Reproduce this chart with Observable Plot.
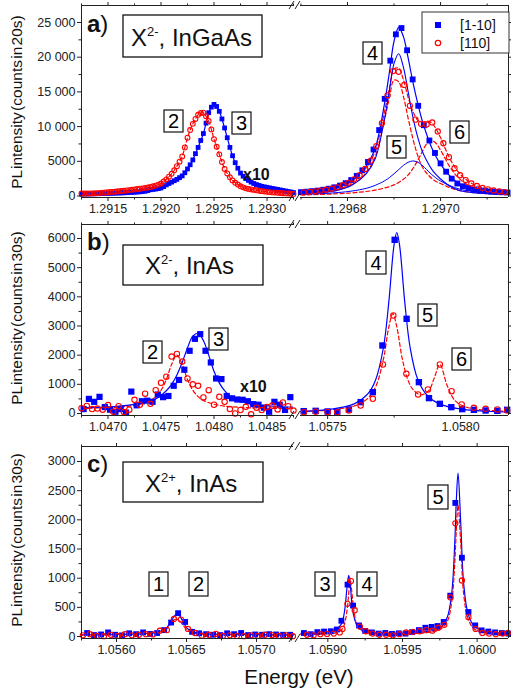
<!DOCTYPE html>
<html><head><meta charset="utf-8">
<script src="https://cdn.jsdelivr.net/npm/d3@7"></script>
<script src="https://cdn.jsdelivr.net/npm/@observablehq/plot@0.6"></script>
<style>
html,body{margin:0;padding:0;background:#fff;}
#chart{position:relative;width:511px;height:691px;overflow:hidden;font-family:'Liberation Sans',Arial,sans-serif;background:#fff;}
#chart svg{position:absolute;}
</style></head><body><div id="chart"></div>
<script>
// ---------- panel a : X2-, InGaAs ----------
const aLeftE = [1.29125,1.2913,1.29135,1.2914,1.29145,1.2915,1.29155,1.2916,1.29165,1.2917,1.29175,1.2918,1.29185,1.2919,1.29195,1.292,1.29205,1.2921,1.29215,1.2922,1.29225,1.2923,1.29235,1.2924,1.29245,1.2925,1.29255,1.2926,1.29265,1.2927,1.29275,1.2928,1.29285,1.2929,1.29295,1.293,1.29305,1.2931,1.29315,1.2932,1.29325];
const aLeftBlue = [280,300,310,330,350,380,400,430,460,500,540,600,680,900,1000,1150,1600,2000,2400,2900,3900,5200,7000,9000,12000,13200,12200,9800,7000,4800,3300,2500,2000,1650,1400,1250,1100,950,800,650,500];
const aLeftRed = [350,350,380,420,480,540,600,680,760,850,950,1050,1150,1300,1500,1800,2400,3200,4300,5700,8400,10400,11700,12000,10800,8200,6000,3900,2700,1900,1400,1100,950,820,700,600,520,460,400,350,300];
const aLeftMidE = [1.291275,1.291325,1.291375,1.291425,1.291475,1.291525,1.291575,1.291625,1.291675,1.291725,1.291775,1.291825,1.291875,1.291925,1.291975,1.292025,1.292075,1.292125,1.292175,1.292225,1.292275,1.292325,1.292375,1.292425,1.292475,1.292525,1.292575,1.292625,1.292675,1.292725,1.292775,1.292825,1.292875,1.292925,1.292975,1.293025,1.293075,1.293125,1.293175,1.293225];
const aLeftMidBlue = [290,305,320,340,365,390,415,445,480,520,570,640,780,950,1070,1350,1800,2200,2650,3350,4500,6100,8000,10500,12800,12900,11100,8400,5800,4000,2850,2250,1800,1520,1320,1170,1020,870,720,580];
const aLeftMidRed = [350,365,400,450,510,570,640,720,800,900,1000,1100,1220,1400,1640,2080,2780,3700,4950,7000,9500,11100,11950,11500,9600,7100,4900,3250,2250,1650,1250,1020,880,760,650,560,490,430,375,325];

const aRightBlueE = [1.2967,1.296712,1.296724,1.296736,1.296748,1.29676,1.296772,1.296784,1.296796,1.296808,1.29682,1.296832,1.296844,1.296856,1.296868,1.29688,1.296892,1.296904,1.296916,1.296928,1.29694,1.296952,1.296964,1.296976,1.296988,1.297,1.297012,1.297024,1.297036,1.297048,1.29706,1.297072,1.297084,1.297096,1.297108,1.29712,1.297132,1.297144];
const aRightBlue = [560,620,700,780,900,1050,1250,1500,1850,2300,2900,3700,4900,6700,9500,14000,19500,23300,24200,21000,16800,13000,10200,8000,6200,4700,3500,2500,1800,1400,1150,950,820,720,650,590,540,500];
const aRightRedE = [1.296706,1.296718,1.29673,1.296742,1.296754,1.296766,1.296778,1.29679,1.296802,1.296814,1.296826,1.296838,1.29685,1.296862,1.296874,1.296886,1.296898,1.29691,1.296922,1.296934,1.296946,1.296958,1.29697,1.296982,1.296994,1.297006,1.297018,1.29703,1.297042,1.297054,1.297066,1.297078,1.29709,1.297102,1.297114,1.297126,1.297138];
const aRightRed = [520,600,680,780,900,1050,1250,1550,1900,2400,3000,3900,5100,7200,10500,14500,18000,17900,16000,13000,11000,10400,10300,10600,9300,7600,5600,4000,3000,2300,1800,1450,1150,950,800,680,560];

const aFitE = [1.2967,1.29674,1.29678,1.29681,1.29684,1.29686,1.29688,1.29689,1.2969,1.29691,1.29692,1.29693,1.29694,1.29695,1.29696,1.29697,1.29698,1.29699,1.297,1.29702,1.29704,1.29707,1.2971,1.29715];
const aFitBlueTotal = [550,800,1350,2300,4300,7000,13500,17800,22300,24300,23000,20000,16600,13600,11000,8900,7100,5700,4600,2900,1800,1100,750,500];
const aFitBlue4 = [320,470,850,1580,3200,5450,11300,15150,19100,20500,18600,15150,11550,8700,6550,5100,3950,3100,2450,1400,800,480,330,260];
const aFitBlue5 = [230,330,500,720,1100,1550,2200,2650,3200,3800,4400,4850,5050,4900,4450,3800,3150,2600,2150,1500,1000,620,420,240];
const aFitRedTotal = [500,750,1250,2100,4000,6600,12300,15500,18300,18400,16800,14300,12300,11000,10600,10800,10600,9700,8400,5400,3300,1700,1050,500];
const aFitRed4 = [350,530,920,1650,3350,5750,11150,14150,16700,16450,14400,11300,8400,6000,4300,3300,2600,2100,1800,1200,800,500,350,200];
const aFitRed6 = [150,220,330,450,650,850,1150,1350,1600,1950,2400,3000,3900,5000,6300,7500,8000,7600,6600,4200,2500,1200,700,300];

// ---------- panel b : X2-, InAs ----------
const bLeftBlueE = [1.04677,1.04682,1.04687,1.04692,1.04697,1.04702,1.04707,1.04712,1.04717,1.04722,1.04727,1.04732,1.04737,1.04742,1.04747,1.04752,1.04757,1.04762,1.04767,1.04772,1.04777,1.04782,1.04787,1.04792,1.04797,1.04802,1.04807,1.04812,1.04817,1.04822,1.04827,1.04832,1.04837,1.04842,1.04847,1.04852,1.04857,1.04862,1.04867,1.04872];
const bLeftBlue = [150,500,400,570,220,130,60,150,30,750,280,420,440,400,650,560,600,950,1150,1500,2150,2560,2720,2150,1750,1200,1180,600,520,480,470,420,320,300,200,60,400,300,120,560];
const bLeftRedE = [1.04675,1.0468,1.04685,1.0469,1.04695,1.047,1.04705,1.0471,1.04715,1.0472,1.04725,1.0473,1.04735,1.0474,1.04745,1.0475,1.04755,1.0476,1.04765,1.0477,1.04775,1.0478,1.04785,1.0479,1.04795,1.048,1.04805,1.0481,1.04815,1.0482,1.04825,1.0483,1.04835,1.0484,1.04845,1.0485,1.04855,1.0486,1.04865,1.0487,1.04875];
const bLeftRed = [180,260,150,170,130,290,60,250,50,130,470,300,680,330,800,1050,1260,1950,2040,1780,1200,1000,950,550,800,300,570,400,150,0,120,230,-30,200,120,220,270,140,380,250,100];
const bLeftFitBlueE = [1.04675,1.0469,1.04705,1.0472,1.0473,1.0474,1.04745,1.0475,1.04755,1.0476,1.04765,1.0477,1.04775,1.0478,1.04785,1.0479,1.04795,1.048,1.04805,1.0481,1.04815,1.04825,1.04835,1.04845,1.0486,1.04875];
const bLeftFitBlue = [190,210,240,290,340,430,500,620,780,1000,1320,1750,2250,2650,2750,2500,2000,1450,1050,780,600,420,330,280,240,215];
const bLeftFitRedE = [1.04675,1.0469,1.04705,1.0472,1.0473,1.0474,1.04745,1.0475,1.04755,1.0476,1.04765,1.0477,1.04775,1.0478,1.04785,1.0479,1.048,1.0481,1.04825,1.04845,1.04875];
const bLeftFitRed = [177,189,210,254,317,450,579,797,1163,1683,2000,1683,1163,797,579,450,317,254,210,184,168];

const bRightBlueE = [1.05741,1.057455,1.0575,1.057536,1.05758,1.057624,1.05767,1.057706,1.057752,1.057797,1.057843,1.057881,1.057922,1.057965,1.058006,1.05805,1.058094,1.058138,1.058175];
const bRightBlue = [80,91,69,57,137,389,731,2332,5955,3246,1074,526,331,217,149,126,103,91,126];
const bRightRedE = [1.057411,1.057455,1.0575,1.057536,1.05758,1.057624,1.05767,1.057708,1.057747,1.057796,1.05784,1.057877,1.057922,1.057966,1.058004,1.05805,1.058094,1.058138,1.058175];
const bRightRed = [46,60,55,40,103,274,503,1680,3360,1360,651,823,1680,766,309,194,160,137,103];
const bRightFitBlueE = [1.0574,1.0575,1.0576,1.05765,1.05768,1.05771,1.05773,1.05775,1.05776,1.05777,1.05779,1.05781,1.05784,1.05788,1.05793,1.058,1.0581,1.05819];
const bRightFitBlue = [68,130,331,661,1142,2271,3820,5800,6200,5800,3820,2271,1142,565,295,152,77,48];
const bRightFitRedE = [1.0574,1.0575,1.0576,1.05765,1.05768,1.05771,1.05773,1.057745,1.05776,1.05778,1.0578,1.05782,1.05785,1.05788,1.0579,1.057922,1.05795,1.05798,1.05802,1.05807,1.05812,1.05819];
const bRightFitRed = [75,117,258,510,906,1872,2964,3422,2978,1907,1198,833,640,783,1195,1678,943,431,222,134,98,73];

// ---------- panel c : X2+, InAs ----------
const cLeftBlueE = [1.05579,1.05584,1.05589,1.05594,1.05599,1.05604,1.05609,1.05614,1.05619,1.05624,1.05629,1.05634,1.05639,1.05644,1.05649,1.05654,1.05659,1.05664,1.05669,1.05674,1.05679,1.05684,1.05689,1.05694,1.05699,1.05704,1.05709,1.05714,1.05719,1.05724];
const cLeftBlue = [60,25,35,70,30,20,55,40,70,45,60,110,240,400,250,80,55,40,30,25,55,40,60,25,35,30,40,35,30,30];
const cLeftRedE = [1.05576,1.05581,1.05586,1.05591,1.05596,1.05601,1.05606,1.05611,1.05616,1.05621,1.05626,1.05631,1.05636,1.05641,1.05646,1.05651,1.05656,1.05661,1.05666,1.05671,1.05676,1.05681,1.05686,1.05691,1.05696,1.05701,1.05706,1.05711,1.05716,1.05721,1.05726];
const cLeftRed = [20,40,10,5,30,10,40,20,30,40,35,100,110,300,290,130,60,15,30,45,10,20,10,5,20,10,30,25,10,20,5];
const cLeftFitE = [1.05575,1.056,1.0562,1.0563,1.05635,1.05638,1.05641,1.05643,1.05645,1.05648,1.05651,1.05656,1.05665,1.05685,1.05726];
const cLeftFitBlue = [30,35,50,80,130,220,340,390,360,230,130,70,45,35,30];
const cLeftFitRed = [25,30,45,75,115,190,280,300,270,180,100,55,35,28,25];

const cRightBlueE = [1.05884,1.058885,1.05893,1.058975,1.05902,1.05906,1.059091,1.059132,1.059169,1.059209,1.05925,1.059295,1.05934,1.059385,1.05943,1.059475,1.05952,1.059565,1.05961,1.059653,1.059695,1.059735,1.059776,1.05982,1.059854,1.059898,1.059942,1.059987,1.06003,1.060075,1.06012,1.060165,1.06021];
const cRightBlue = [60,40,75,85,90,120,270,890,530,190,95,70,50,60,45,55,50,75,110,150,165,180,250,700,2290,1350,420,190,105,85,70,60,50];
const cRightRedE = [1.05886,1.058905,1.05895,1.058995,1.05904,1.05908,1.059098,1.059131,1.059155,1.05918,1.059215,1.059255,1.0593,1.059345,1.05939,1.059435,1.05948,1.059525,1.05957,1.059615,1.05966,1.0597,1.05974,1.05978,1.059822,1.059854,1.059898,1.059942,1.05999,1.060035,1.06008,1.060125,1.06017,1.060205];
const cRightRed = [30,20,40,45,50,70,130,560,950,450,170,90,50,30,30,20,40,70,80,90,110,100,150,200,670,1940,960,330,130,60,50,40,50,60];
const cRightFitBlueE = [1.05882,1.05895,1.05905,1.05909,1.05911,1.05913,1.05914,1.05915,1.05917,1.0592,1.05925,1.05935,1.0595,1.05965,1.05975,1.0598,1.05983,1.05985,1.05986,1.059872,1.05989,1.05991,1.05994,1.05998,1.06005,1.06022];
const cRightFitBlue = [55,60,107,212,400,878,1050,878,400,168,80,62,60,80,140,330,750,1600,2300,2800,1950,900,380,180,95,60];
const cRightFitRedE = [1.05882,1.05895,1.05905,1.05909,1.05911,1.05913,1.05914,1.05915,1.05916,1.05918,1.0592,1.05925,1.05935,1.0595,1.05965,1.05975,1.0598,1.05983,1.05985,1.05986,1.059872,1.05989,1.05991,1.05994,1.05998,1.06005,1.06022];
const cRightFitRed = [35,40,60,110,200,480,750,1000,780,360,160,70,45,45,65,120,260,600,1250,1800,2250,1600,720,300,130,70,45];

// ---------- ticks ----------
const aYTicks = [0,5000,10000,15000,20000,25000];
const aYLabels = ["0","5000","10 000","15 000","20 000","25 000"];
const aYMinor = [2500,7500,12500,17500,22500];
const bYTicks = [0,1000,2000,3000,4000,5000,6000];
const bYLabels = ["0","1000","2000","3000","4000","5000","6000"];
const bYMinor = [500,1500,2500,3500,4500,5500];
const cYTicks = [0,500,1000,1500,2000,2500,3000];
const cYLabels = ["0","500","1000","1500","2000","2500","3000"];
const cYMinor = [250,750,1250,1750,2250,2750];

const aLXTicks = [1.2915,1.292,1.2925,1.293], aLXLabels = ["1.2915","1.2920","1.2925","1.2930"], aLXMinor = [1.29125,1.29175,1.29225,1.29275,1.29325];
const aRXTicks = [1.2968,1.297], aRXLabels = ["1.2968","1.2970"], aRXMinor = [1.2967,1.2969,1.2971];
const bLXTicks = [1.047,1.0475,1.048,1.0485], bLXLabels = ["1.0470","1.0475","1.0480","1.0485"], bLXMinor = [1.04675,1.04725,1.04775,1.04825,1.04875];
const bRXTicks = [1.0575,1.058], bRXLabels = ["1.0575","1.0580"], bRXMinor = [1.05775];
const cLXTicks = [1.056,1.0565,1.057], cLXLabels = ["1.0560","1.0565","1.0570"], cLXMinor = [1.05575,1.05625,1.05675,1.05725];
const cRXTicks = [1.059,1.0595,1.06], cRXLabels = ["1.0590","1.0595","1.0600"], cRXMinor = [1.05925,1.05975];

// ---------- drawing ----------
const BLUE = "#0000ff", RED = "#ff0000", AX = "#222";
const FONT = "'Liberation Sans', Arial, Helvetica, sans-serif";
const rows = (E, V) => E.map((e, i) => ({E: e, v: V[i]}));
const sorted = a => a.slice().sort((p, q) => p.E - q.E);
const chart = document.getElementById("chart");

function subplot(o) {
  const isL = o.side === "L";
  const ml = isL ? o.left : 6, mr = isL ? 6 : 3, mt = 8, mb = 26;
  const fmt = (ticks, labels) => d => { const i = ticks.indexOf(d); return i >= 0 ? labels[i] : ""; };
  const none = () => "";
  const axes = [
    Plot.ruleY([o.yd[0], o.yd[1]], {stroke: AX, strokeWidth: 1}),
    Plot.ruleX([isL ? o.xd[0] : o.xd[1]], {stroke: AX, strokeWidth: 1}),
    Plot.axisX({anchor: "bottom", ticks: o.xTicks, tickSize: 4, tickPadding: 3, tickFormat: fmt(o.xTicks, o.xLabels), fontSize: 12.5, label: null}),
    Plot.axisX({anchor: "bottom", ticks: o.xMinor, tickSize: 2.5, tickFormat: none, label: null}),
    Plot.axisX({anchor: "top", ticks: o.xTicks, tickSize: 4, tickFormat: none, label: null}),
    Plot.axisX({anchor: "top", ticks: o.xMinor, tickSize: 2.5, tickFormat: none, label: null}),
    Plot.axisY({anchor: isL ? "left" : "right", ticks: o.yTicks, tickSize: 4, tickPadding: 2, tickFormat: isL ? fmt(o.yTicks, o.yLabels) : none, fontSize: 12.5, label: null}),
    Plot.axisY({anchor: isL ? "left" : "right", ticks: o.yMinor, tickSize: 2.5, tickFormat: none, label: null})
  ];
  const svg = Plot.plot({
    width: ml + o.w + mr, height: mt + o.h + mb,
    marginLeft: ml, marginRight: mr, marginTop: mt, marginBottom: mb,
    x: {domain: o.xd}, y: {domain: o.yd},
    style: {background: "transparent", overflow: "visible", fontFamily: FONT, fontSize: "12.5px", color: AX},
    marks: [...o.marks, ...axes]
  });
  svg.style.left = (o.left - ml) + "px";
  svg.style.top = (o.top - mt) + "px";
  chart.appendChild(svg);
}
const blueLine = (d, w = 1.2) => Plot.line(d, {x: "E", y: "v", stroke: BLUE, strokeWidth: w, curve: "catmull-rom", clip: true});
const redLine = (d, w = 1.2) => Plot.line(d, {x: "E", y: "v", stroke: RED, strokeWidth: w, strokeDasharray: "4,2.5", curve: "catmull-rom", clip: true});
const blueDots = (d, r) => Plot.dot(d, {x: "E", y: "v", symbol: "square", r, fill: BLUE, stroke: "none"});
const redDots = (d, r) => Plot.dot(d, {x: "E", y: "v", r, fill: "none", stroke: RED, strokeWidth: 1.1});

const PA = {top: 5, h: 192, yd: [-216, 27450], yTicks: aYTicks, yLabels: aYLabels, yMinor: aYMinor};
const PB = {top: 224, h: 191, yd: [-69, 6480], yTicks: bYTicks, yLabels: bYLabels, yMinor: bYMinor};
const PC = {top: 446, h: 192, yd: [-34, 3257], yTicks: cYTicks, yLabels: cYLabels, yMinor: cYMinor};
const L = {side: "L", left: 81, w: 212}, R = {side: "R", left: 300, w: 208};

const aLB = sorted([...rows(aLeftE, aLeftBlue), ...rows(aLeftMidE, aLeftMidBlue)]);
const aLR = sorted([...rows(aLeftE, aLeftRed), ...rows(aLeftMidE, aLeftMidRed)]);
subplot({...PA, ...L, xd: [1.29125, 1.29325], xTicks: aLXTicks, xLabels: aLXLabels, xMinor: aLXMinor, marks: [
  blueLine(aLB), redLine(aLR),
  blueDots(aLB, 2.7), redDots(aLR, 2.4)]});
subplot({...PA, ...R, xd: [1.296699, 1.297146], xTicks: aRXTicks, xLabels: aRXLabels, xMinor: aRXMinor, marks: [
  redLine(rows(aFitE, aFitRed6)), redLine(rows(aFitE, aFitRed4)), redLine(rows(aFitE, aFitRedTotal)),
  blueLine(rows(aFitE, aFitBlue5), 1), blueLine(rows(aFitE, aFitBlue4), 1.1), blueLine(rows(aFitE, aFitBlueTotal)),
  blueDots(rows(aRightBlueE, aRightBlue), 3.3), redDots(rows(aRightRedE, aRightRed), 2.6)]});
subplot({...PB, ...L, xd: [1.04675, 1.04875], xTicks: bLXTicks, xLabels: bLXLabels, xMinor: bLXMinor, marks: [
  redLine(rows(bLeftFitRedE, bLeftFitRed)), blueLine(rows(bLeftFitBlueE, bLeftFitBlue)),
  blueDots(rows(bLeftBlueE, bLeftBlue), 3.5), redDots(rows(bLeftRedE, bLeftRed), 2.7)]});
subplot({...PB, ...R, xd: [1.057398, 1.05818], xTicks: bRXTicks, xLabels: bRXLabels, xMinor: bRXMinor, marks: [
  redLine(rows(bRightFitRedE, bRightFitRed)), blueLine(rows(bRightFitBlueE, bRightFitBlue)),
  blueDots(rows(bRightBlueE, bRightBlue), 3.6), redDots(rows(bRightRedE, bRightRed), 2.7)]});
subplot({...PC, ...L, xd: [1.05575, 1.057264], xTicks: cLXTicks, xLabels: cLXLabels, xMinor: cLXMinor, marks: [
  blueLine(rows(cLeftFitE, cLeftFitBlue)), redLine(rows(cLeftFitE, cLeftFitRed)),
  blueDots(rows(cLeftBlueE, cLeftBlue), 3.3), redDots(rows(cLeftRedE, cLeftRed), 2.6)]});
subplot({...PC, ...R, xd: [1.058817, 1.06021], xTicks: cRXTicks, xLabels: cRXLabels, xMinor: cRXMinor, marks: [
  blueLine(rows(cRightFitBlueE, cRightFitBlue)), redLine(rows(cRightFitRedE, cRightFitRed)),
  blueDots(rows(cRightBlueE, cRightBlue), 3.3), redDots(rows(cRightRedE, cRightRed), 2.6)]});

// ---------- annotations ----------
const box = (x, y, t, w = 19, h = 22) =>
  `<rect x="${x}" y="${y}" width="${w}" height="${h}" fill="white" stroke="#111" stroke-width="1.2"/>` +
  `<text x="${x + w / 2}" y="${y + h / 2 + 7}" text-anchor="middle" font-size="20">${t}</text>`;
const brk = [5, 197, 224, 415, 446, 638].map(y =>
  `<line x1="289" y1="${y + 4}" x2="294" y2="${y - 4}" stroke="${AX}"/><line x1="295" y1="${y + 4}" x2="300" y2="${y - 4}" stroke="${AX}"/>`).join("");
const ov = `<svg width="511" height="691" style="left:0;top:0;font-family:${FONT.replace(/'/g, "")}" xmlns="http://www.w3.org/2000/svg">
${brk}
<g font-size="15.5" text-anchor="middle" style="word-spacing:-3px" fill="#111">
<text transform="translate(22,102) rotate(-90)">PL intensity (counts in 20s)</text>
<text transform="translate(22,318) rotate(-90)">PL intensity (counts in 30s)</text>
<text transform="translate(22,540) rotate(-90)">PL intensity (counts in 30s)</text>
</g>
<text x="299" y="684" text-anchor="middle" font-size="20.5" fill="#111">Energy (eV)</text>
<g font-size="24" fill="#111">
<text x="87" y="32"><tspan font-weight="bold">a</tspan>)</text>
<text x="87" y="250"><tspan font-weight="bold">b</tspan>)</text>
<text x="87" y="472"><tspan font-weight="bold">c</tspan>)</text>
</g>
<rect x="123" y="15" width="139" height="42" fill="white" stroke="#111" stroke-width="1.3"/>
<text x="131" y="46" font-size="24" fill="#111">X<tspan font-size="13" dy="-10">2-</tspan><tspan dy="10">, InGaAs</tspan></text>
<rect x="123" y="245" width="140" height="40" fill="white" stroke="#111" stroke-width="1.3"/>
<text x="145" y="274" font-size="24" fill="#111">X<tspan font-size="13" dy="-10">2-</tspan><tspan dy="10">, InAs</tspan></text>
<rect x="123" y="462" width="140" height="40" fill="white" stroke="#111" stroke-width="1.3"/>
<text x="145" y="492" font-size="24" fill="#111">X<tspan font-size="13" dy="-10">2+</tspan><tspan dy="10">, InAs</tspan></text>
${box(164, 110, "2")}${box(232, 112, "3")}${box(363, 42, "4")}${box(387, 136, "5")}${box(450, 121, "6")}
${box(143, 341, "2")}${box(209, 328, "3")}${box(366, 251, "4", 20, 23)}${box(418, 304, "5")}${box(452, 348, "6")}
${box(149, 572, "1", 19, 24)}${box(189, 572, "2", 19, 24)}${box(315, 572, "3", 20, 24)}${box(357, 572, "4", 20, 24)}${box(428, 485, "5", 20, 24)}
<text x="243" y="180" font-size="16" font-weight="bold" fill="#111">x10</text>
<text x="240" y="392" font-size="16" font-weight="bold" fill="#111">x10</text>
<rect x="422" y="12" width="87" height="41" fill="white" stroke="#333" stroke-width="1"/>
<rect x="435" y="22" width="6" height="6" fill="${BLUE}"/>
<text x="460" y="30" font-size="14" fill="#111">[1-10]</text>
<circle cx="438" cy="43" r="2.7" fill="none" stroke="${RED}" stroke-width="1.2"/>
<text x="460" y="48" font-size="14" fill="#111">[110]</text>
</svg>`;
chart.insertAdjacentHTML("beforeend", ov);
</script></body></html>
